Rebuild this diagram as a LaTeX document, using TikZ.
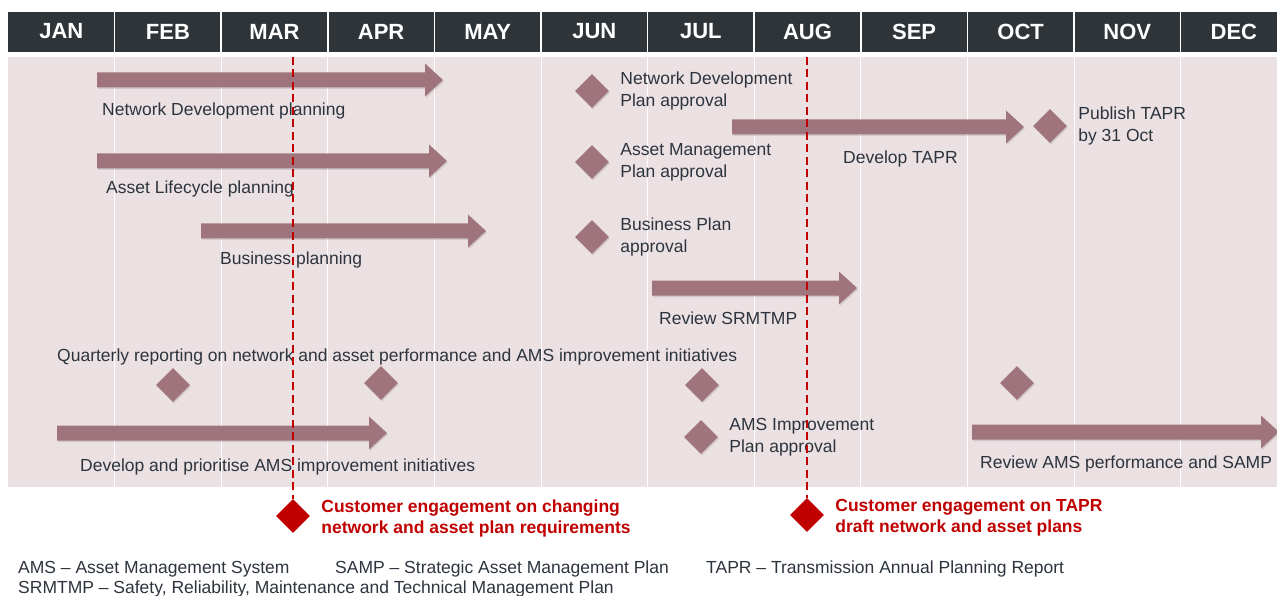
\documentclass[tikz,border=0pt]{standalone}
\usepackage{fontspec}
\setmainfont{Liberation Sans}
\usetikzlibrary{positioning,shapes.geometric,shadows}
\definecolor{headdark}{RGB}{46,52,56}
\definecolor{chartpink}{RGB}{235,225,227}
\definecolor{taskmauve}{RGB}{159,116,124}
\definecolor{engagered}{RGB}{192,0,0}
\definecolor{labelgray}{RGB}{45,52,62}

% task bar from x=#1 to tip x=#2 at height #3
\newcommand{\taskbar}[3]{%
  \fill[taskmauve, barshadow] (#1,#3-7.5) -- (#2-18,#3-7.5) -- (#2-18,#3-16.5) -- (#2,#3)
    -- (#2-18,#3+16.5) -- (#2-18,#3+7.5) -- (#1,#3+7.5) -- cycle;}

\begin{document}
\begin{tikzpicture}[
  x=1pt, y=-1pt,
  node distance=11pt,
  barshadow/.style={drop shadow={shadow xshift=1pt, shadow yshift=-1.5pt, opacity=.25}},
  month/.style={text=white, font=\fontsize{22}{24}\selectfont\bfseries},
  lbl/.style={text=labelgray, font=\fontsize{17.5}{22}\selectfont, inner sep=0pt, align=left},
  redlbl/.style={text=engagered, font=\fontsize{17.5}{21.5}\selectfont\bfseries, inner sep=0pt, align=left, yshift=-2.5pt},
  milestone/.style={diamond, fill=taskmauve, inner sep=0pt, minimum width=34pt, minimum height=34pt, barshadow},
  engage/.style={diamond, fill=engagered, inner sep=0pt, minimum width=34pt, minimum height=34pt},
  engageline/.style={draw=engagered, line width=2.5pt, dash pattern=on 8pt off 4.5pt}
]
\useasboundingbox (0,0) rectangle (1277,596);

% month header and chart body
\fill[headdark] (8,12) rectangle (1277,52);
\fill[chartpink] (8,57) rectangle (1277,487);
\foreach \m [count=\i from 0] in {JAN,FEB,MAR,APR,MAY,JUN,JUL,AUG,SEP,OCT,NOV,DEC}
  \node[month] (m\i) at ({8+106.6*(\i+0.5)},31.5) {\m};
\foreach \i in {1,...,11} {
  \draw[white, line width=1.5pt] ({8+106.6*\i},12) -- ({8+106.6*\i},52);
  \draw[white, line width=1pt] ({8+106.6*\i},57) -- ({8+106.6*\i},487);
}

% planning tasks
\taskbar{97}{443}{80}
\node[lbl, anchor=mid west] (ndp) at (102,113) {Network Development planning};
\taskbar{97}{447}{161}
\node[lbl, anchor=mid west] (alp) at (106,191) {Asset Lifecycle planning};
\taskbar{201}{486}{231}
\node[lbl, anchor=mid west] (bp) at (220,262) {Business planning};
\taskbar{732}{1024}{127}
\node[lbl, anchor=mid west] (dt) at (843,161) {Develop TAPR};
\taskbar{652}{857}{288}
\node[lbl, anchor=mid west] (rs) at (659,322) {Review SRMTMP};
\taskbar{57}{387}{433}
\node[lbl, anchor=mid west] (dpa) at (80,469) {Develop and prioritise AMS improvement initiatives};
\taskbar{972}{1279}{432}
\node[lbl, anchor=mid west] (ras) at (980,466) {Review AMS performance and SAMP};

% approvals
\node[milestone] (ndpa) at (592,91) {};
\node[lbl, right=of ndpa] {Network Development\\Plan approval};
\node[milestone] (ampa) at (592,162) {};
\node[lbl, right=of ampa] {Asset Management\\Plan approval};
\node[milestone] (bpa) at (592,237) {};
\node[lbl, right=of bpa] {Business Plan\\approval};
\node[milestone] (pub) at (1050,126) {};
\node[lbl, right=of pub] {Publish TAPR\\by 31 Oct};
\node[milestone] (amsa) at (701,437) {};
\node[lbl, right=of amsa] {AMS Improvement\\Plan approval};

% quarterly reporting
\node[lbl, anchor=mid west] (qr) at (57,359) {Quarterly reporting on network and asset performance and AMS improvement initiatives};
\node[milestone] (q1) at (173,385) {};
\node[milestone] (q2) at (381,383) {};
\node[milestone] (q3) at (702,385) {};
\node[milestone] (q4) at (1017,383) {};

% customer engagement
\node[engage] (ce1) at (293,516) {};
\node[engage] (ce2) at (807,515) {};
\draw[engageline] (293,57) -- (ce1);
\draw[engageline] (807,57) -- (ce2);
\node[redlbl, right=of ce1] {Customer engagement on changing\\network and asset plan requirements};
\node[redlbl, right=of ce2] {Customer engagement on TAPR\\draft network and asset plans};

% abbreviations
\node[lbl, anchor=mid west] (k1) at (18,571) {AMS -- Asset Management System};
\node[lbl, anchor=mid west] (k2) at (335,571) {SAMP -- Strategic Asset Management Plan};
\node[lbl, anchor=mid west] (k3) at (706,571) {TAPR -- Transmission Annual Planning Report};
\node[lbl, anchor=mid west] (k4) at (18,591) {SRMTMP -- Safety, Reliability, Maintenance and Technical Management Plan};
\end{tikzpicture}
\end{document}
